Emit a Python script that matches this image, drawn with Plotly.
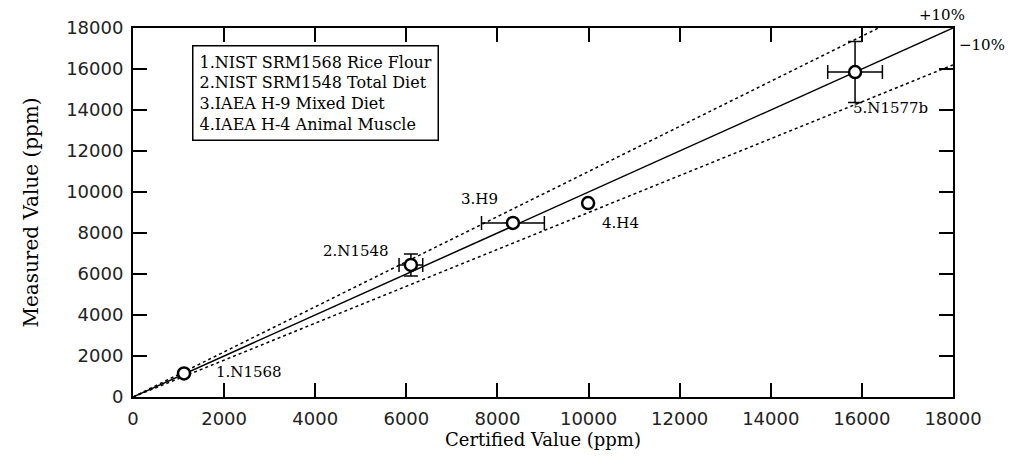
import plotly.graph_objects as go

# Certified vs measured concentrations (ppm)
samples = ["1.N1568", "2.N1548", "3.H9", "4.H4", "5.N1577b"]
certified = [1120, 6100, 8340, 9990, 15850]
measured = [1150, 6440, 8490, 9460, 15850]
certified_err = [0, 260, 690, 0, 600]
measured_err = [0, 540, 0, 0, 1490]

legend_lines = [
    "1.NIST SRM1568 Rice Flour",
    "2.NIST SRM1548 Total Diet",
    "3.IAEA H-9 Mixed Diet",
    "4.IAEA H-4 Animal Muscle",
]

tick_vals = [0, 2000, 4000, 6000, 8000, 10000, 12000, 14000, 16000, 18000]
tick_text = [str(v) for v in tick_vals]
axis_max = 18000
band = 0.10

# label positions (data coords) for each sample
label_x = [2550, 4900, 7600, 10700, 16620]
label_y = [1220, 7120, 9660, 8490, 14100]

serif = "DejaVu Serif"
sans = "DejaVu Sans"

fig = go.Figure()

# 1:1 line and +/-10 % bands
line_x = [0, axis_max]
fig.add_trace(go.Scatter(x=line_x, y=[v for v in line_x], mode="lines",
                         line=dict(color="black", width=1.5), hoverinfo="skip"))
fig.add_trace(go.Scatter(x=line_x, y=[v * (1 + band) for v in line_x], mode="lines",
                         line=dict(color="black", width=1.5, dash="dot"), hoverinfo="skip"))
fig.add_trace(go.Scatter(x=line_x, y=[v * (1 - band) for v in line_x], mode="lines",
                         line=dict(color="black", width=1.5, dash="dot"), hoverinfo="skip"))

# horizontal error bars only where an uncertainty is given
ix = [i for i, e in enumerate(certified_err) if e > 0]
fig.add_trace(go.Scatter(
    x=[certified[i] for i in ix], y=[measured[i] for i in ix], mode="markers",
    marker=dict(size=1, color="rgba(0,0,0,0)"),
    error_x=dict(type="data", array=[certified_err[i] for i in ix],
                 color="black", thickness=1.5, width=7),
    hoverinfo="skip",
))
# vertical error bars
iy = [i for i, e in enumerate(measured_err) if e > 0]
fig.add_trace(go.Scatter(
    x=[certified[i] for i in iy], y=[measured[i] for i in iy], mode="markers",
    marker=dict(size=1, color="rgba(0,0,0,0)"),
    error_y=dict(type="data", array=[measured_err[i] for i in iy],
                 color="black", thickness=1.5, width=7),
    hoverinfo="skip",
))

# sample points
fig.add_trace(go.Scatter(
    x=certified, y=measured, mode="markers",
    marker=dict(symbol="circle", size=12, color="white",
                line=dict(width=2.5, color="black")),
    text=samples, hoverinfo="text+x+y",
))

for name, lx, ly in zip(samples, label_x, label_y):
    fig.add_annotation(x=lx, y=ly, text=name, showarrow=False,
                       font=dict(family=serif, size=15, color="black"))

fig.add_annotation(xref="paper", yref="paper", x=0.987, y=1.035, text="+10%",
                   xanchor="center", yanchor="middle",
                   showarrow=False, font=dict(family=serif, size=15, color="black"))
fig.add_annotation(xref="paper", yref="paper", x=1.035, y=0.954, text="\u221210%",
                   xanchor="center", yanchor="middle",
                   showarrow=False, font=dict(family=serif, size=15, color="black"))

# key box
fig.add_annotation(xref="paper", yref="paper", x=0.072, y=0.954,
                   xanchor="left", yanchor="top", align="left", showarrow=False,
                   text="<br>".join(legend_lines),
                   font=dict(family=serif, size=16, color="black"),
                   bordercolor="black", borderwidth=1.5, borderpad=6, bgcolor="white")

axis_common = dict(
    range=[0, axis_max], tickvals=tick_vals, ticktext=tick_text,
    ticks="inside", ticklen=14,
    tickwidth=1.5, tickcolor="black", showline=True, linecolor="black",
    linewidth=2, mirror="ticks", showgrid=False, zeroline=False,
    tickfont=dict(family=sans, size=18, color="#222"),
)

fig.update_layout(
    width=1011, height=460, showlegend=False,
    paper_bgcolor="white", plot_bgcolor="white",
    margin=dict(l=133, r=58, t=28, b=63),
    xaxis=dict(**axis_common, ticklabelstandoff=4,
               title=dict(text="Certified Value (ppm)", standoff=2,
                          font=dict(family=serif, size=18, color="black"))),
    yaxis=dict(**axis_common, ticklabelstandoff=4,
               title=dict(text="Measured Value (ppm)", standoff=22,
                          font=dict(family=serif, size=20, color="black"))),
)

fig.write_html("out.html")
